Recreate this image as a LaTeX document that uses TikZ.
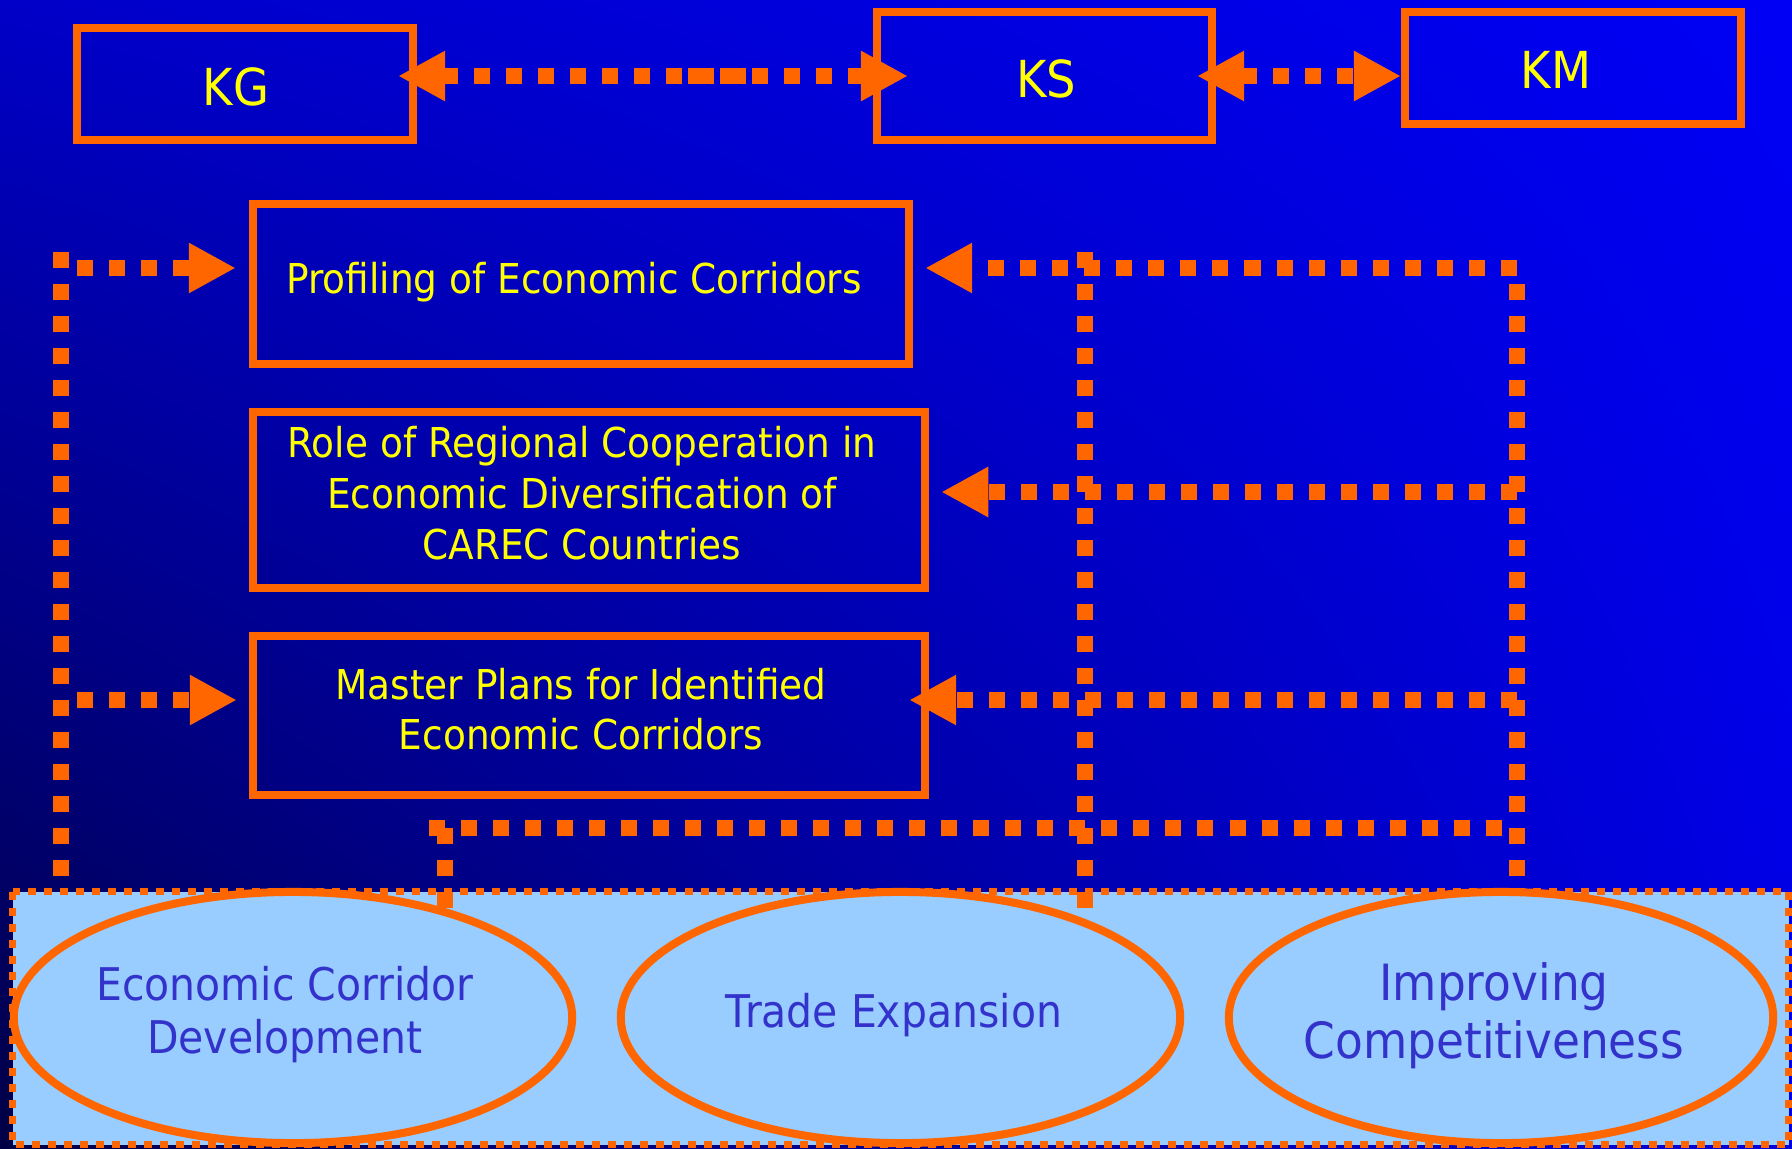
\documentclass[tikz,border=0pt]{standalone}
\usepackage{fontspec}
\setmainfont[FakeStretch=0.91]{DejaVu Sans}
\usetikzlibrary{arrows.meta, shapes.geometric, shadings}
\definecolor{corange}{HTML}{FF6600}
\definecolor{boxtext}{HTML}{FFFF00}
\definecolor{ovaltext}{HTML}{3333CC}
\definecolor{ovalfill}{HTML}{99CCFF}
\definecolor{bgll}{RGB}{0,0,70}
\definecolor{bgul}{RGB}{0,0,200}
\definecolor{bgur}{RGB}{0,0,245}
\definecolor{bglr}{RGB}{0,0,225}
\tikzset{
  box/.style={draw=corange, line width=0.08cm, inner sep=0pt},
  boxlabel/.style={inner sep=0pt, align=center, text=boxtext},
  oval/.style={ellipse, draw=corange, fill=ovalfill, line width=0.08cm, inner sep=0pt},
  ovallabel/.style={inner sep=0pt, align=center, text=ovaltext},
  link/.style={draw=corange, line width=0.16cm, dash pattern=on 0.16cm off 0.16cm},
  >={Triangle[length=0.47cm,width=0.47cm]}
}

\begin{document}
\begin{tikzpicture}[x=0.01cm,y=-0.01cm]
            \path[use as bounding box] (0,0) rectangle (1792,1148);
            \shade[lower left=bgll, upper left=bgul, upper right=bgur, lower right=bglr] (0,0) rectangle (1792,1148);
            \draw[draw=corange, fill=ovalfill, line width=0.07cm, dash pattern=on 0.08cm off 0.08cm] (12.5,891.5) rectangle (1788.5,1144.5);

            % countries
            \node[box, minimum width=3.36cm, minimum height=1.12cm] (KG) at (245,84) {};
            \node[box, minimum width=3.35cm, minimum height=1.28cm] (KS) at (1044.5,76) {};
            \node[box, minimum width=3.36cm, minimum height=1.12cm] (KM) at (1573,68) {};
            \node[boxlabel, font=\fontsize{14.5}{17}\selectfont] (KGtext) at ([xshift=-0.09cm,yshift=-0.025cm]KG.center) {KG};
            \node[boxlabel, font=\fontsize{14.5}{17}\selectfont] (KStext) at ([xshift=0.015cm,yshift=-0.025cm]KS.center) {KS};
            \node[boxlabel, font=\fontsize{14.5}{17}\selectfont] (KMtext) at ([xshift=-0.17cm,yshift=-0.02cm]KM.center) {KM};

            % studies
            \node[box, minimum width=6.56cm, minimum height=1.60cm] (prof) at (581,284) {};
            \node[box, minimum width=6.72cm, minimum height=1.76cm] (role) at (589,500) {};
            \node[box, minimum width=6.72cm, minimum height=1.59cm] (master) at (589,715.5) {};
            \node[boxlabel, font=\fontsize{11.7}{14.5}\selectfont] (proftext) at ([xshift=-0.07cm,yshift=0.02cm]prof.center) {Profiling of Economic Corridors};
            \node[boxlabel, font=\fontsize{11.7}{14.5}\selectfont] (roletext) at ([xshift=-0.07cm,yshift=0.07cm]role.center) {Role of Regional Cooperation in\\Economic Diversification of\\CAREC Countries};
            \node[boxlabel, font=\fontsize{11.7}{14.2}\selectfont] (mastertext) at ([xshift=-0.08cm,yshift=0.06cm]master.center) {Master Plans for Identified\\Economic Corridors};

            \coordinate (kgend) at (765,76);
            \coordinate (ksend) at (669,76);
            \draw[link,<-,shorten <=-0.19cm] (KG.east |- kgend) -- (kgend);
            \draw[link,<-,shorten <=-0.35cm] (KS.west |- ksend) -- (ksend);
            \draw[link,<->,shorten <=-0.19cm] (KS.east) -- (KS.east -| KM.west);

            % left line
            \coordinate (lefttop) at (61,252);
            \coordinate (leftbot) at (61,876);
            \coordinate (leftprof) at (77,268);
            \coordinate (leftmaster) at (77,700);
            \draw[link] (lefttop) -- (leftbot);
            \draw[link,->,shorten >=0.13cm] (leftprof) -- (leftprof -| prof.west);
            \draw[link,->,shorten >=0.12cm] (leftmaster) -- (leftmaster -| master.west);

            % right lines
            \coordinate (midtop) at (1085,252);
            \coordinate (midbot) at (1085,908);
            \coordinate (rightbot) at (1517,876);
            \coordinate (rightcorner) at (1517,268);
            \coordinate (rightrole) at (1517,492);
            \coordinate (rightmaster) at (1517,700);
            \draw[link] (midtop) -- (midbot);
            \draw[link,->,shorten >=0.12cm] (rightbot) -- (rightcorner) -- (rightcorner -| prof.east);
            \draw[link,->,shorten >=0.12cm] (rightrole) -- (rightrole -| role.east);
            \draw[link,->,shorten >=-0.20cm] (rightmaster) -- (rightmaster -| master.east);

            % lower line
            \coordinate (lowleft) at (429,828);
            \coordinate (lowright) at (1517,828);
            \coordinate (lowdrop) at (445,828);
            \coordinate (lowend) at (445,908);
            \draw[link] (lowleft) -- (lowright);
            \draw[link] (lowdrop) -- (lowend);

            % goals
            \node[oval, minimum width=5.58cm, minimum height=2.51cm] (ecd) at (293,1017.5) {};
            \node[oval, minimum width=5.59cm, minimum height=2.51cm] (trade) at (900.5,1017.5) {};
            \node[oval, minimum width=5.44cm, minimum height=2.51cm] (comp) at (1501,1017.5) {};
            \node[ovallabel, font=\fontsize{12.8}{15.1}\selectfont] (ecdtext) at ([xshift=-0.08cm,yshift=0.03cm]ecd.center) {Economic Corridor\\Development};
            \node[ovallabel, font=\fontsize{12.8}{15.1}\selectfont] (tradetext) at ([xshift=-0.065cm,yshift=0.02cm]trade.center) {Trade Expansion};
            \node[ovallabel, font=\fontsize{14.2}{16.5}\selectfont] (comptext) at ([xshift=-0.07cm,yshift=0.02cm]comp.center) {Improving\\Competitiveness};
        \end{tikzpicture}
\end{document}
